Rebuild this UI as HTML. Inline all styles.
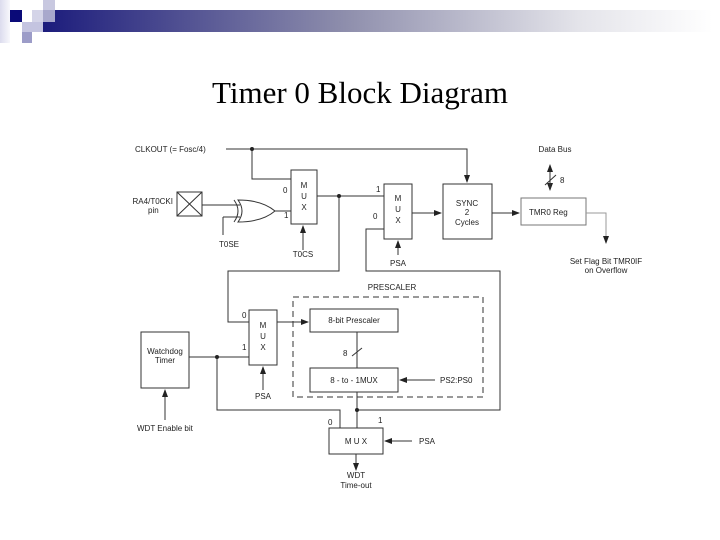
<!DOCTYPE html>
<html><head><meta charset="utf-8"><style>
html,body{margin:0;padding:0;background:#fff}
svg{display:block}
text{font-family:"Liberation Sans",sans-serif;font-size:8px;fill:#222}
</style></head><body>
<svg width="720" height="540" viewBox="0 0 720 540" xmlns="http://www.w3.org/2000/svg">
<defs>
<linearGradient id="g" x1="0" x2="1"><stop offset="0" stop-color="#1c1c7c"/><stop offset="0.45" stop-color="#8e8eac"/><stop offset="0.8" stop-color="#e4e4ea"/><stop offset="1" stop-color="#fff"/></linearGradient>
<linearGradient id="w" x1="0" x2="1"><stop offset="0" stop-color="#dcdcee"/><stop offset="1" stop-color="#f8f8fc"/></linearGradient>
<marker id="a" markerWidth="8" markerHeight="8" refX="7" refY="4" orient="auto" markerUnits="userSpaceOnUse"><path d="M0,1 L8,4 L0,7 Z" fill="#222"/></marker>
</defs>
<rect x="43" y="10" width="670" height="22" fill="url(#g)"/>
<rect x="0" y="0" width="10" height="43" fill="url(#w)"/>
<rect x="43" y="0" width="12" height="10" fill="#c8c8e0"/>
<rect x="32" y="10" width="11" height="12" fill="#d4d4e8"/>
<rect x="43" y="10" width="12" height="12" fill="#a8a8cc"/>
<rect x="10" y="10" width="12" height="12" fill="#0a0a78"/>
<rect x="22" y="22" width="21" height="10" fill="#c4c4e0"/>
<rect x="22" y="32" width="10" height="11" fill="#9c9cc8"/>
<text x="360" y="103" text-anchor="middle" style="font-family:'Liberation Serif',serif;font-size:31px;fill:#000">Timer 0 Block Diagram</text>
<g stroke="#333" stroke-width="1" fill="none">
<path d="M226,149 H467 V182" marker-end="url(#a)"/>
<path d="M252,149 V179 H291"/>
<rect x="291" y="170" width="26" height="54" fill="#fff"/>
<rect x="177" y="192" width="25" height="24"/>
<path d="M177,192 L202,216 M202,192 L177,216"/>
<path d="M202,205 H240"/>
<path d="M223,217 H240 M223,217 V235"/>
<path d="M234,200 Q242,211 234,222"/>
<path d="M238,200 Q246,211 238,222 Q262,222 275,211 Q262,200 238,200 Z" fill="#fff"/>
<path d="M275,211 H291"/>
<path d="M303,250 V226" marker-end="url(#a)"/>
<path d="M317,196 H384"/>
<path d="M339,196 V271 H228 V322 H249"/>
<rect x="384" y="184" width="28" height="55" fill="#fff"/>
<path d="M384,229 H366 V271 H500 V410 H357"/>
<path d="M398,255 V241" marker-end="url(#a)"/>
<path d="M412,213 H441" marker-end="url(#a)"/>
<rect x="443" y="184" width="49" height="55"/>
<path d="M492,213 H519" marker-end="url(#a)"/>
<rect x="521" y="198" width="65" height="27" stroke="#777"/>
<path d="M550,172 V190" marker-end="url(#a)"/>
<path d="M550,188 V165" marker-end="url(#a)"/>
<path d="M545,185 L556,175"/>
<path d="M586,213 H606 V243" stroke="#999" marker-end="url(#a)"/>
<rect x="293" y="297" width="190" height="100" stroke-dasharray="6,4"/>
<rect x="249" y="310" width="28" height="55" fill="#fff"/>
<path d="M277,322 H308" marker-end="url(#a)"/>
<rect x="310" y="309" width="88" height="23" fill="#fff"/>
<path d="M357,332 V368 M352,356 L362,348"/>
<rect x="310" y="368" width="88" height="24" fill="#fff"/>
<path d="M435,380 H400" marker-end="url(#a)"/>
<path d="M357,392 V428"/>
<rect x="329" y="428" width="54" height="26"/>
<path d="M412,441 H385" marker-end="url(#a)"/>
<path d="M356,454 V470" marker-end="url(#a)"/>
<rect x="141" y="332" width="48" height="56"/>
<path d="M189,357 H249"/>
<path d="M217,357 V410 H340 V428"/>
<path d="M165,420 V390" marker-end="url(#a)"/>
<path d="M263,390 V367" marker-end="url(#a)"/>
</g>
<g fill="#222">
<circle cx="252" cy="149" r="2"/><circle cx="339" cy="196" r="2"/>
<circle cx="217" cy="357" r="2"/><circle cx="357" cy="410" r="2"/>
</g>
<text x="135" y="152">CLKOUT (= Fosc/4)</text>
<text x="173" y="204" text-anchor="end">RA4/T0CKI</text>
<text x="148" y="213">pin</text>
<text x="283" y="193">0</text><text x="284" y="218">1</text>
<g text-anchor="middle">
<text x="304" y="188">M</text><text x="304" y="199">U</text><text x="304" y="210">X</text>
<text x="398" y="201">M</text><text x="398" y="212">U</text><text x="398" y="223">X</text>
<text x="263" y="328">M</text><text x="263" y="339">U</text><text x="263" y="350">X</text>
<text x="229" y="247">T0SE</text><text x="303" y="257">T0CS</text>
<text x="398" y="266">PSA</text><text x="263" y="399">PSA</text>
<text x="467" y="206">SYNC</text><text x="467" y="215">2</text><text x="467" y="225">Cycles</text>
<text x="555" y="152">Data Bus</text>
<text x="606" y="264">Set Flag Bit TMR0IF</text><text x="606" y="273">on Overflow</text>
<text x="392" y="290">PRESCALER</text>
<text x="354" y="323">8-bit Prescaler</text>
<text x="354" y="383">8 - to - 1MUX</text>
<text x="356" y="444">M U X</text>
<text x="165" y="354">Watchdog</text><text x="165" y="363">Timer</text>
<text x="356" y="478">WDT</text><text x="356" y="488">Time-out</text>
</g>
<text x="376" y="192">1</text><text x="373" y="219">0</text>
<text x="560" y="183">8</text>
<text x="529" y="215">TMR0 Reg</text>
<text x="242" y="318">0</text><text x="242" y="350">1</text>
<text x="343" y="356">8</text>
<text x="440" y="383">PS2:PS0</text>
<text x="328" y="425">0</text><text x="378" y="423">1</text>
<text x="419" y="444">PSA</text>
<text x="137" y="431">WDT Enable bit</text>
</svg>
</body></html>
